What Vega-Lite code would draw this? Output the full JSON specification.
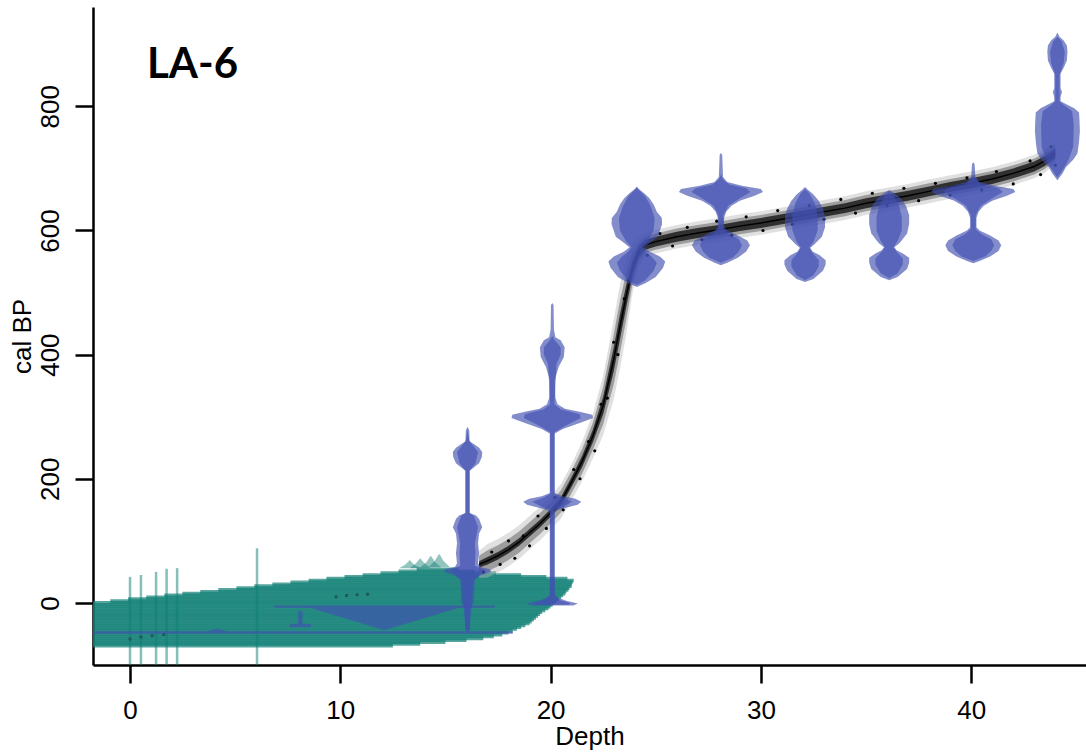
{
"$schema": "https://vega.github.io/schema/vega-lite/v6.json",
"width": 993, "height": 658,
"autosize": {"type": "none"},
"padding": {"left": 93, "top": 7, "right": 0, "bottom": 90},
"background": "white",
"config": {
 "view": {"stroke": null},
 "axis": {"grid": false, "domainColor": "black", "domainWidth": 2.5, "tickColor": "black", "tickWidth": 2.5, "tickSize": 18,
  "labelFont": "Liberation Sans", "labelFontSize": 26, "labelColor": "black",
  "titleFont": "Liberation Sans", "titleFontSize": 26, "titleFontWeight": "normal", "titleColor": "black"}
},
"datasets": {
 "stripes": [
  {"a":-69,"y0":-72,"y1":-66,"x0":-2.5,"x1":12.5},{"a":-66,"y0":-69,"y1":-63,"x0":-2.5,"x1":13.8},{"a":-63,"y0":-66,"y1":-60,"x0":-2.5,"x1":15.0},
  {"a":-60,"y0":-63,"y1":-57,"x0":-2.5,"x1":16.0},{"a":-57,"y0":-60,"y1":-54,"x0":-2.5,"x1":16.8},{"a":-54,"y0":-57,"y1":-51,"x0":-2.5,"x1":17.3},
  {"a":-51,"y0":-54,"y1":-48,"x0":-2.5,"x1":17.7},{"a":-48,"y0":-51,"y1":-45,"x0":-2.5,"x1":18.0},{"a":-45,"y0":-48,"y1":-42,"x0":-2.5,"x1":18.2},
  {"a":-42,"y0":-45,"y1":-39,"x0":-2.5,"x1":18.4},{"a":-39,"y0":-42,"y1":-36,"x0":-2.5,"x1":18.6},{"a":-36,"y0":-39,"y1":-33,"x0":-2.5,"x1":18.8},
  {"a":-33,"y0":-36,"y1":-30,"x0":-2.5,"x1":19.0},{"a":-30,"y0":-33,"y1":-27,"x0":-2.5,"x1":19.1},{"a":-27,"y0":-30,"y1":-24,"x0":-2.5,"x1":19.2},
  {"a":-24,"y0":-27,"y1":-21,"x0":-2.5,"x1":19.3},{"a":-21,"y0":-24,"y1":-18,"x0":-2.5,"x1":19.4},{"a":-18,"y0":-21,"y1":-15,"x0":-2.5,"x1":19.5},
  {"a":-15,"y0":-18,"y1":-12,"x0":-2.5,"x1":19.6},{"a":-12,"y0":-15,"y1":-9,"x0":-2.5,"x1":19.75},{"a":-9,"y0":-12,"y1":-6,"x0":-2.5,"x1":19.9},
  {"a":-6,"y0":-9,"y1":-3,"x0":-2.5,"x1":20.0},{"a":-3,"y0":-6,"y1":0,"x0":-2.5,"x1":20.1},{"a":0,"y0":-3,"y1":3,"x0":-2.5,"x1":20.2},
  {"a":3,"y0":0,"y1":6,"x0":-0.94,"x1":20.3},{"a":6,"y0":3,"y1":9,"x0":-0.09,"x1":20.4},{"a":9,"y0":6,"y1":12,"x0":0.77,"x1":20.5},
  {"a":12,"y0":9,"y1":15,"x0":1.63,"x1":20.6},{"a":15,"y0":12,"y1":18,"x0":2.49,"x1":20.7},{"a":18,"y0":15,"y1":21,"x0":3.34,"x1":20.75},
  {"a":21,"y0":18,"y1":24,"x0":4.2,"x1":20.85},{"a":24,"y0":21,"y1":27,"x0":5.06,"x1":20.9},{"a":27,"y0":24,"y1":30,"x0":5.91,"x1":21.0},
  {"a":30,"y0":27,"y1":33,"x0":6.77,"x1":21.0},{"a":33,"y0":30,"y1":36,"x0":7.63,"x1":21.05},{"a":36,"y0":33,"y1":39,"x0":8.49,"x1":21.1},
  {"a":39,"y0":36,"y1":42,"x0":9.34,"x1":20.8},{"a":42,"y0":39,"y1":45,"x0":10.2,"x1":19.8},{"a":45,"y0":42,"y1":48,"x0":11.06,"x1":18.6},
  {"a":48,"y0":45,"y1":51,"x0":11.91,"x1":17.4},{"a":51,"y0":48,"y1":54,"x0":12.77,"x1":16.4},{"a":54,"y0":51,"y1":57,"x0":13.63,"x1":15.6}
 ],
 "tealLines": [
  {"d":0,"top":42,"bot":-110},{"d":0.52,"top":45,"bot":-110},{"d":1.24,"top":50,"bot":-110},
  {"d":1.74,"top":55,"bot":-110},{"d":2.24,"top":56,"bot":-110},{"d":6.04,"top":88,"bot":-110}
 ],
 "bumps": [
  {"id":"b1","age":56,"lo":12.8,"hi":13.8},{"id":"b1","age":62,"lo":13.1,"hi":13.5},{"id":"b1","age":67,"lo":13.25,"hi":13.35},{"id":"b1","age":69,"lo":13.3,"hi":13.3},
  {"id":"b2","age":56,"lo":13.3,"hi":14.3},{"id":"b2","age":64,"lo":13.6,"hi":14.0},{"id":"b2","age":70,"lo":13.75,"hi":13.85},{"id":"b2","age":72,"lo":13.8,"hi":13.8},
  {"id":"b3","age":57,"lo":13.8,"hi":14.8},{"id":"b3","age":66,"lo":14.1,"hi":14.5},{"id":"b3","age":74,"lo":14.25,"hi":14.35},{"id":"b3","age":76,"lo":14.3,"hi":14.3},
  {"id":"b4","age":58,"lo":14.2,"hi":15.2},{"id":"b4","age":68,"lo":14.5,"hi":14.9},{"id":"b4","age":77,"lo":14.65,"hi":14.75},{"id":"b4","age":79,"lo":14.7,"hi":14.7}
 ],
 "tealDots": [
  {"d":0,"age":-58},{"d":0.52,"age":-55},{"d":1.05,"age":-53},{"d":1.6,"age":-51},
  {"d":9.8,"age":10},{"d":10.3,"age":12},{"d":10.8,"age":13},{"d":11.3,"age":14}
 ],
 "model": [
  {"depth":16.6,"c":62,"olo":40,"ohi":84,"mlo":48,"mhi":76,"ilo":57,"ihi":67},
  {"depth":17,"c":68,"olo":41,"ohi":95,"mlo":51,"mhi":85,"ilo":62,"ihi":74},
  {"depth":17.5,"c":76,"olo":49,"ohi":103,"mlo":59,"mhi":93,"ilo":70,"ihi":82},
  {"depth":18,"c":86,"olo":59,"ohi":113,"mlo":69,"mhi":103,"ilo":80,"ihi":92},
  {"depth":18.5,"c":98,"olo":71,"ohi":125,"mlo":81,"mhi":115,"ilo":92,"ihi":104},
  {"depth":19,"c":113,"olo":86,"ohi":140,"mlo":96,"mhi":130,"ilo":107,"ihi":119},
  {"depth":19.5,"c":128,"olo":101,"ohi":155,"mlo":111,"mhi":145,"ilo":122,"ihi":134},
  {"depth":20,"c":145,"olo":118,"ohi":172,"mlo":128,"mhi":162,"ilo":139,"ihi":151},
  {"depth":20.5,"c":164,"olo":136,"ohi":192,"mlo":146,"mhi":182,"ilo":157,"ihi":171},
  {"depth":21,"c":195,"olo":166,"ohi":224,"mlo":177,"mhi":213,"ilo":187,"ihi":203},
  {"depth":21.5,"c":228,"olo":196,"ohi":260,"mlo":208,"mhi":248,"ilo":219,"ihi":237},
  {"depth":22,"c":268,"olo":232,"ohi":304,"mlo":246,"mhi":290,"ilo":258,"ihi":278},
  {"depth":22.5,"c":318,"olo":270,"ohi":366,"mlo":288,"mhi":348,"ilo":304,"ihi":332},
  {"depth":23,"c":392,"olo":328,"ohi":456,"mlo":352,"mhi":432,"ilo":373,"ihi":411},
  {"depth":23.3,"c":445,"olo":377,"ohi":513,"mlo":403,"mhi":487,"ilo":425,"ihi":465},
  {"depth":23.6,"c":495,"olo":433,"ohi":557,"mlo":457,"mhi":533,"ilo":477,"ihi":513},
  {"depth":23.9,"c":540,"olo":500,"ohi":580,"mlo":515,"mhi":565,"ilo":528,"ihi":552},
  {"depth":24.2,"c":566,"olo":542,"ohi":590,"mlo":551,"mhi":581,"ilo":557,"ihi":575},
  {"depth":24.5,"c":577,"olo":558,"ohi":596,"mlo":564,"mhi":590,"ilo":569,"ihi":585},
  {"depth":25,"c":582,"olo":563,"ohi":601,"mlo":569,"mhi":595,"ilo":574,"ihi":590},
  {"depth":26,"c":590,"olo":571,"ohi":609,"mlo":577,"mhi":603,"ilo":582,"ihi":598},
  {"depth":27,"c":596,"olo":577,"ohi":615,"mlo":583,"mhi":609,"ilo":588,"ihi":604},
  {"depth":28,"c":601,"olo":582,"ohi":620,"mlo":588,"mhi":614,"ilo":593,"ihi":609},
  {"depth":29,"c":607,"olo":588,"ohi":626,"mlo":594,"mhi":620,"ilo":599,"ihi":615},
  {"depth":30,"c":612,"olo":593,"ohi":631,"mlo":599,"mhi":625,"ilo":604,"ihi":620},
  {"depth":31,"c":618,"olo":599,"ohi":637,"mlo":605,"mhi":631,"ilo":610,"ihi":626},
  {"depth":32,"c":624,"olo":605,"ohi":643,"mlo":611,"mhi":637,"ilo":616,"ihi":632},
  {"depth":33,"c":630,"olo":611,"ohi":649,"mlo":617,"mhi":643,"ilo":622,"ihi":638},
  {"depth":34,"c":636,"olo":617,"ohi":655,"mlo":623,"mhi":649,"ilo":628,"ihi":644},
  {"depth":35,"c":644,"olo":625,"ohi":663,"mlo":631,"mhi":657,"ilo":636,"ihi":652},
  {"depth":36,"c":650,"olo":631,"ohi":669,"mlo":637,"mhi":663,"ilo":642,"ihi":658},
  {"depth":37,"c":656,"olo":637,"ohi":675,"mlo":643,"mhi":669,"ilo":648,"ihi":664},
  {"depth":38,"c":663,"olo":644,"ohi":682,"mlo":650,"mhi":676,"ilo":655,"ihi":671},
  {"depth":39,"c":670,"olo":651,"ohi":689,"mlo":657,"mhi":683,"ilo":662,"ihi":678},
  {"depth":40,"c":676,"olo":657,"ohi":695,"mlo":663,"mhi":689,"ilo":668,"ihi":684},
  {"depth":41,"c":683,"olo":664,"ohi":702,"mlo":670,"mhi":696,"ilo":675,"ihi":691},
  {"depth":42,"c":692,"olo":673,"ohi":711,"mlo":679,"mhi":705,"ilo":684,"ihi":700},
  {"depth":43,"c":703,"olo":684,"ohi":722,"mlo":690,"mhi":716,"ilo":695,"ihi":711},
  {"depth":43.5,"c":712,"olo":693,"ohi":731,"mlo":699,"mhi":725,"ilo":704,"ihi":720},
  {"depth":44,"c":724,"olo":707,"ohi":741,"mlo":713,"mhi":735,"ilo":717,"ihi":731}
 ],
 "dots": [
  {"d":16.8,"age":50},{"d":17.2,"age":82},{"d":17.6,"age":62},{"d":18.0,"age":100},{"d":18.3,"age":72},{"d":18.7,"age":108},
  {"d":19.0,"age":92},{"d":19.4,"age":140},{"d":19.8,"age":120},{"d":20.2,"age":170},{"d":20.6,"age":150},{"d":21.1,"age":215},
  {"d":21.4,"age":200},{"d":21.8,"age":260},{"d":22.1,"age":245},{"d":22.4,"age":320},{"d":22.7,"age":330},{"d":23.0,"age":420},
  {"d":23.2,"age":400},{"d":23.5,"age":490},{"d":23.7,"age":520},{"d":24.6,"age":560},{"d":25.2,"age":595},{"d":25.8,"age":575},
  {"d":26.5,"age":605},{"d":27.2,"age":585},{"d":27.9,"age":615},{"d":28.6,"age":592},{"d":29.3,"age":622},{"d":30.1,"age":600},
  {"d":30.8,"age":632},{"d":31.5,"age":610},{"d":32.3,"age":640},{"d":33.0,"age":618},{"d":33.8,"age":650},{"d":34.5,"age":628},
  {"d":35.3,"age":660},{"d":36.0,"age":640},{"d":36.8,"age":668},{"d":37.5,"age":648},{"d":38.3,"age":676},{"d":39.0,"age":657},
  {"d":39.8,"age":685},{"d":40.5,"age":665},{"d":41.2,"age":695},{"d":42.0,"age":675},{"d":42.8,"age":712},{"d":43.3,"age":690},
  {"d":43.8,"age":735},{"d":44.0,"age":705}
 ],
 "viol": [
  {"id":"16o","age":-48,"lo":16.05,"hi":16.05},{"id":"16o","age":-44,"lo":15.93,"hi":16.17},{"id":"16o","age":-10,"lo":15.93,"hi":16.17},
  {"id":"16o","age":-6,"lo":15.9,"hi":16.2},{"id":"16o","age":0,"lo":15.75,"hi":16.35},{"id":"16o","age":20,"lo":15.73,"hi":16.37},
  {"id":"16o","age":37,"lo":15.7,"hi":16.4},{"id":"16o","age":44,"lo":15.45,"hi":16.65},{"id":"16o","age":50,"lo":14.95,"hi":17.15},
  {"id":"16o","age":54,"lo":14.95,"hi":17.15},{"id":"16o","age":58,"lo":15.45,"hi":16.65},{"id":"16o","age":64,"lo":15.55,"hi":16.55},
  {"id":"16o","age":80,"lo":15.5,"hi":16.6},{"id":"16o","age":96,"lo":15.55,"hi":16.55},{"id":"16o","age":112,"lo":15.5,"hi":16.6},
  {"id":"16o","age":122,"lo":15.35,"hi":16.75},{"id":"16o","age":135,"lo":15.5,"hi":16.6},{"id":"16o","age":141,"lo":15.65,"hi":16.45},
  {"id":"16o","age":145,"lo":15.95,"hi":16.15},{"id":"16o","age":213,"lo":15.95,"hi":16.15},{"id":"16o","age":218,"lo":15.75,"hi":16.35},
  {"id":"16o","age":225,"lo":15.5,"hi":16.6},{"id":"16o","age":235,"lo":15.37,"hi":16.73},{"id":"16o","age":243,"lo":15.35,"hi":16.75},
  {"id":"16o","age":250,"lo":15.5,"hi":16.6},{"id":"16o","age":256,"lo":15.75,"hi":16.35},{"id":"16o","age":260,"lo":15.95,"hi":16.15},
  {"id":"16o","age":278,"lo":15.97,"hi":16.13},{"id":"16o","age":284,"lo":16.05,"hi":16.05},
  {"id":"16i","age":-44,"lo":16.05,"hi":16.05},{"id":"16i","age":-40,"lo":15.95,"hi":16.15},{"id":"16i","age":0,"lo":15.85,"hi":16.25},
  {"id":"16i","age":37,"lo":15.8,"hi":16.3},{"id":"16i","age":50,"lo":15.3,"hi":16.8},{"id":"16i","age":54,"lo":15.3,"hi":16.8},
  {"id":"16i","age":60,"lo":15.7,"hi":16.4},{"id":"16i","age":80,"lo":15.67,"hi":16.43},{"id":"16i","age":96,"lo":15.7,"hi":16.4},
  {"id":"16i","age":122,"lo":15.55,"hi":16.55},{"id":"16i","age":140,"lo":15.75,"hi":16.35},{"id":"16i","age":145,"lo":15.95,"hi":16.15},
  {"id":"16i","age":213,"lo":15.95,"hi":16.15},{"id":"16i","age":225,"lo":15.67,"hi":16.43},{"id":"16i","age":243,"lo":15.55,"hi":16.55},
  {"id":"16i","age":256,"lo":15.85,"hi":16.25},{"id":"16i","age":262,"lo":15.97,"hi":16.13},{"id":"16i","age":278,"lo":16.05,"hi":16.05},
  {"id":"20o","age":-4,"lo":19.08,"hi":21.08},{"id":"20o","age":-1,"lo":18.86,"hi":21.3},{"id":"20o","age":3,"lo":19.38,"hi":20.78},
  {"id":"20o","age":8,"lo":19.78,"hi":20.38},{"id":"20o","age":14,"lo":19.96,"hi":20.2},{"id":"20o","age":148,"lo":19.96,"hi":20.2},
  {"id":"20o","age":153,"lo":19.48,"hi":20.68},{"id":"20o","age":158,"lo":18.88,"hi":21.28},{"id":"20o","age":163,"lo":18.7,"hi":21.46},
  {"id":"20o","age":168,"lo":18.98,"hi":21.18},{"id":"20o","age":172,"lo":19.58,"hi":20.58},{"id":"20o","age":177,"lo":19.96,"hi":20.2},
  {"id":"20o","age":273,"lo":19.96,"hi":20.2},{"id":"20o","age":280,"lo":19.58,"hi":20.58},{"id":"20o","age":290,"lo":18.78,"hi":21.38},
  {"id":"20o","age":298,"lo":18.14,"hi":22.02},{"id":"20o","age":303,"lo":18.18,"hi":21.98},{"id":"20o","age":308,"lo":18.78,"hi":21.38},
  {"id":"20o","age":313,"lo":19.48,"hi":20.68},{"id":"20o","age":320,"lo":19.83,"hi":20.33},{"id":"20o","age":330,"lo":19.93,"hi":20.23},
  {"id":"20o","age":359,"lo":19.96,"hi":20.2},{"id":"20o","age":380,"lo":19.78,"hi":20.38},{"id":"20o","age":396,"lo":19.53,"hi":20.63},
  {"id":"20o","age":412,"lo":19.49,"hi":20.67},{"id":"20o","age":423,"lo":19.68,"hi":20.48},{"id":"20o","age":428,"lo":19.93,"hi":20.23},
  {"id":"20o","age":440,"lo":20.0,"hi":20.16},{"id":"20o","age":480,"lo":20.02,"hi":20.14},{"id":"20o","age":483,"lo":20.08,"hi":20.08},
  {"id":"20i","age":-3,"lo":19.28,"hi":20.88},{"id":"20i","age":0,"lo":19.23,"hi":20.93},{"id":"20i","age":4,"lo":19.68,"hi":20.48},
  {"id":"20i","age":10,"lo":19.98,"hi":20.18},{"id":"20i","age":150,"lo":19.98,"hi":20.18},{"id":"20i","age":155,"lo":19.58,"hi":20.58},
  {"id":"20i","age":163,"lo":19.13,"hi":21.03},{"id":"20i","age":170,"lo":19.68,"hi":20.48},{"id":"20i","age":176,"lo":19.98,"hi":20.18},
  {"id":"20i","age":275,"lo":19.98,"hi":20.18},{"id":"20i","age":285,"lo":19.48,"hi":20.68},{"id":"20i","age":298,"lo":18.73,"hi":21.43},
  {"id":"20i","age":304,"lo":18.78,"hi":21.38},{"id":"20i","age":312,"lo":19.68,"hi":20.48},{"id":"20i","age":320,"lo":19.98,"hi":20.18},
  {"id":"20i","age":385,"lo":19.88,"hi":20.28},{"id":"20i","age":400,"lo":19.68,"hi":20.48},{"id":"20i","age":412,"lo":19.68,"hi":20.48},
  {"id":"20i","age":424,"lo":19.98,"hi":20.18},{"id":"20i","age":430,"lo":20.08,"hi":20.08},
  {"id":"24o","age":509,"lo":24.1,"hi":24.1},{"id":"24o","age":515,"lo":23.7,"hi":24.5},{"id":"24o","age":525,"lo":23.2,"hi":25.0},
  {"id":"24o","age":540,"lo":22.85,"hi":25.35},{"id":"24o","age":550,"lo":22.75,"hi":25.45},{"id":"24o","age":558,"lo":23.0,"hi":25.2},
  {"id":"24o","age":566,"lo":23.5,"hi":24.7},{"id":"24o","age":573,"lo":23.75,"hi":24.45},{"id":"24o","age":580,"lo":23.5,"hi":24.7},
  {"id":"24o","age":590,"lo":23.1,"hi":25.1},{"id":"24o","age":600,"lo":23.0,"hi":25.2},{"id":"24o","age":610,"lo":22.9,"hi":25.3},
  {"id":"24o","age":620,"lo":22.91,"hi":25.29},{"id":"24o","age":630,"lo":23.15,"hi":25.05},{"id":"24o","age":642,"lo":23.3,"hi":24.9},
  {"id":"24o","age":652,"lo":23.5,"hi":24.7},{"id":"24o","age":660,"lo":23.75,"hi":24.45},{"id":"24o","age":667,"lo":24.0,"hi":24.2},
  {"id":"24o","age":671,"lo":24.1,"hi":24.1},
  {"id":"24i","age":512,"lo":24.1,"hi":24.1},{"id":"24i","age":520,"lo":23.7,"hi":24.5},{"id":"24i","age":535,"lo":23.3,"hi":24.9},
  {"id":"24i","age":548,"lo":23.15,"hi":25.05},{"id":"24i","age":558,"lo":23.4,"hi":24.8},{"id":"24i","age":566,"lo":23.7,"hi":24.5},
  {"id":"24i","age":573,"lo":23.85,"hi":24.35},{"id":"24i","age":582,"lo":23.6,"hi":24.6},{"id":"24i","age":600,"lo":23.3,"hi":24.9},
  {"id":"24i","age":620,"lo":23.25,"hi":24.95},{"id":"24i","age":640,"lo":23.45,"hi":24.75},{"id":"24i","age":655,"lo":23.7,"hi":24.5},
  {"id":"24i","age":665,"lo":24.0,"hi":24.2},{"id":"24i","age":669,"lo":24.1,"hi":24.1},
  {"id":"28o","age":544,"lo":28.1,"hi":28.1},{"id":"28o","age":548,"lo":27.8,"hi":28.4},{"id":"28o","age":556,"lo":27.3,"hi":28.9},
  {"id":"28o","age":566,"lo":26.9,"hi":29.3},{"id":"28o","age":576,"lo":26.72,"hi":29.48},{"id":"28o","age":584,"lo":26.85,"hi":29.35},
  {"id":"28o","age":592,"lo":27.3,"hi":28.9},{"id":"28o","age":600,"lo":27.8,"hi":28.4},{"id":"28o","age":605,"lo":27.95,"hi":28.25},
  {"id":"28o","age":620,"lo":27.95,"hi":28.25},{"id":"28o","age":630,"lo":27.85,"hi":28.35},{"id":"28o","age":640,"lo":27.6,"hi":28.6},
  {"id":"28o","age":648,"lo":27.2,"hi":29.0},{"id":"28o","age":656,"lo":26.5,"hi":29.7},{"id":"28o","age":662,"lo":26.1,"hi":30.1},
  {"id":"28o","age":667,"lo":26.2,"hi":30.0},{"id":"28o","age":672,"lo":27.1,"hi":29.1},{"id":"28o","age":678,"lo":27.8,"hi":28.4},
  {"id":"28o","age":686,"lo":28.0,"hi":28.2},{"id":"28o","age":722,"lo":28.04,"hi":28.16},{"id":"28o","age":725,"lo":28.1,"hi":28.1},
  {"id":"28i","age":548,"lo":28.1,"hi":28.1},{"id":"28i","age":556,"lo":27.55,"hi":28.65},{"id":"28i","age":566,"lo":27.25,"hi":28.95},
  {"id":"28i","age":576,"lo":27.1,"hi":29.1},{"id":"28i","age":586,"lo":27.25,"hi":28.95},{"id":"28i","age":594,"lo":27.7,"hi":28.5},
  {"id":"28i","age":602,"lo":27.98,"hi":28.22},{"id":"28i","age":625,"lo":27.98,"hi":28.22},{"id":"28i","age":640,"lo":27.75,"hi":28.45},
  {"id":"28i","age":652,"lo":27.2,"hi":29.0},{"id":"28i","age":662,"lo":26.7,"hi":29.5},{"id":"28i","age":668,"lo":26.9,"hi":29.3},
  {"id":"28i","age":674,"lo":27.7,"hi":28.5},{"id":"28i","age":682,"lo":28.0,"hi":28.2},{"id":"28i","age":690,"lo":28.1,"hi":28.1},
  {"id":"32o","age":517,"lo":32.1,"hi":32.1},{"id":"32o","age":522,"lo":31.7,"hi":32.5},{"id":"32o","age":535,"lo":31.25,"hi":32.95},
  {"id":"32o","age":545,"lo":31.12,"hi":33.08},{"id":"32o","age":552,"lo":31.12,"hi":33.08},{"id":"32o","age":560,"lo":31.4,"hi":32.8},
  {"id":"32o","age":566,"lo":31.75,"hi":32.45},{"id":"32o","age":572,"lo":31.85,"hi":32.35},{"id":"32o","age":578,"lo":31.65,"hi":32.55},
  {"id":"32o","age":590,"lo":31.3,"hi":32.9},{"id":"32o","age":605,"lo":31.15,"hi":33.05},{"id":"32o","age":622,"lo":31.15,"hi":33.05},
  {"id":"32o","age":635,"lo":31.25,"hi":32.95},{"id":"32o","age":648,"lo":31.45,"hi":32.75},{"id":"32o","age":658,"lo":31.7,"hi":32.5},
  {"id":"32o","age":666,"lo":31.98,"hi":32.22},{"id":"32o","age":670,"lo":32.1,"hi":32.1},
  {"id":"32i","age":520,"lo":32.1,"hi":32.1},{"id":"32i","age":528,"lo":31.7,"hi":32.5},{"id":"32i","age":542,"lo":31.45,"hi":32.75},
  {"id":"32i","age":552,"lo":31.45,"hi":32.75},{"id":"32i","age":562,"lo":31.7,"hi":32.5},{"id":"32i","age":572,"lo":31.9,"hi":32.3},
  {"id":"32i","age":582,"lo":31.7,"hi":32.5},{"id":"32i","age":600,"lo":31.5,"hi":32.7},{"id":"32i","age":625,"lo":31.5,"hi":32.7},
  {"id":"32i","age":645,"lo":31.65,"hi":32.55},{"id":"32i","age":660,"lo":31.9,"hi":32.3},{"id":"32i","age":667,"lo":32.1,"hi":32.1},
  {"id":"36o","age":520,"lo":36.1,"hi":36.1},{"id":"36o","age":525,"lo":35.7,"hi":36.5},{"id":"36o","age":538,"lo":35.25,"hi":36.95},
  {"id":"36o","age":548,"lo":35.15,"hi":37.05},{"id":"36o","age":556,"lo":35.15,"hi":37.05},{"id":"36o","age":563,"lo":35.45,"hi":36.75},
  {"id":"36o","age":568,"lo":35.75,"hi":36.45},{"id":"36o","age":573,"lo":35.85,"hi":36.35},{"id":"36o","age":580,"lo":35.6,"hi":36.6},
  {"id":"36o","age":595,"lo":35.25,"hi":36.95},{"id":"36o","age":610,"lo":35.15,"hi":37.05},{"id":"36o","age":625,"lo":35.15,"hi":37.05},
  {"id":"36o","age":640,"lo":35.3,"hi":36.9},{"id":"36o","age":652,"lo":35.55,"hi":36.65},{"id":"36o","age":660,"lo":35.85,"hi":36.35},
  {"id":"36o","age":665,"lo":36.1,"hi":36.1},
  {"id":"36i","age":523,"lo":36.1,"hi":36.1},{"id":"36i","age":531,"lo":35.7,"hi":36.5},{"id":"36i","age":545,"lo":35.45,"hi":36.75},
  {"id":"36i","age":555,"lo":35.45,"hi":36.75},{"id":"36i","age":564,"lo":35.7,"hi":36.5},{"id":"36i","age":573,"lo":35.9,"hi":36.3},
  {"id":"36i","age":583,"lo":35.7,"hi":36.5},{"id":"36i","age":600,"lo":35.5,"hi":36.7},{"id":"36i","age":622,"lo":35.5,"hi":36.7},
  {"id":"36i","age":642,"lo":35.65,"hi":36.55},{"id":"36i","age":656,"lo":35.9,"hi":36.3},{"id":"36i","age":662,"lo":36.1,"hi":36.1},
  {"id":"40o","age":547,"lo":40.1,"hi":40.1},{"id":"40o","age":551,"lo":39.8,"hi":40.4},{"id":"40o","age":558,"lo":39.3,"hi":40.9},
  {"id":"40o","age":567,"lo":38.9,"hi":41.3},{"id":"40o","age":576,"lo":38.77,"hi":41.43},{"id":"40o","age":584,"lo":38.9,"hi":41.3},
  {"id":"40o","age":592,"lo":39.3,"hi":40.9},{"id":"40o","age":600,"lo":39.8,"hi":40.4},{"id":"40o","age":605,"lo":39.95,"hi":40.25},
  {"id":"40o","age":620,"lo":39.95,"hi":40.25},{"id":"40o","age":630,"lo":39.85,"hi":40.35},{"id":"40o","age":640,"lo":39.6,"hi":40.6},
  {"id":"40o","age":648,"lo":39.2,"hi":41.0},{"id":"40o","age":656,"lo":38.5,"hi":41.7},{"id":"40o","age":662,"lo":38.1,"hi":42.1},
  {"id":"40o","age":667,"lo":38.2,"hi":42.0},{"id":"40o","age":672,"lo":39.1,"hi":41.1},{"id":"40o","age":678,"lo":39.8,"hi":40.4},
  {"id":"40o","age":686,"lo":40.0,"hi":40.2},{"id":"40o","age":707,"lo":40.04,"hi":40.16},{"id":"40o","age":710,"lo":40.1,"hi":40.1},
  {"id":"40i","age":551,"lo":40.1,"hi":40.1},{"id":"40i","age":558,"lo":39.55,"hi":40.65},{"id":"40i","age":567,"lo":39.25,"hi":40.95},
  {"id":"40i","age":576,"lo":39.1,"hi":41.1},{"id":"40i","age":586,"lo":39.25,"hi":40.95},{"id":"40i","age":594,"lo":39.7,"hi":40.5},
  {"id":"40i","age":602,"lo":39.98,"hi":40.22},{"id":"40i","age":625,"lo":39.98,"hi":40.22},{"id":"40i","age":640,"lo":39.75,"hi":40.45},
  {"id":"40i","age":652,"lo":39.2,"hi":41.0},{"id":"40i","age":662,"lo":38.7,"hi":41.5},{"id":"40i","age":668,"lo":38.9,"hi":41.3},
  {"id":"40i","age":674,"lo":39.7,"hi":40.5},{"id":"40i","age":682,"lo":40.0,"hi":40.2},{"id":"40i","age":690,"lo":40.1,"hi":40.1},
  {"id":"44o","age":681,"lo":44.1,"hi":44.1},{"id":"44o","age":692,"lo":43.85,"hi":44.35},{"id":"44o","age":702,"lo":43.7,"hi":44.5},
  {"id":"44o","age":714,"lo":43.35,"hi":44.85},{"id":"44o","age":724,"lo":43.15,"hi":45.05},{"id":"44o","age":740,"lo":43.08,"hi":45.12},
  {"id":"44o","age":760,"lo":43.03,"hi":45.17},{"id":"44o","age":778,"lo":43.05,"hi":45.15},{"id":"44o","age":790,"lo":43.07,"hi":45.13},
  {"id":"44o","age":797,"lo":43.3,"hi":44.9},{"id":"44o","age":803,"lo":43.65,"hi":44.55},{"id":"44o","age":808,"lo":43.95,"hi":44.25},
  {"id":"44o","age":815,"lo":43.95,"hi":44.25},{"id":"44o","age":823,"lo":43.88,"hi":44.32},{"id":"44o","age":829,"lo":43.95,"hi":44.25},
  {"id":"44o","age":853,"lo":43.95,"hi":44.25},{"id":"44o","age":862,"lo":43.8,"hi":44.4},{"id":"44o","age":874,"lo":43.65,"hi":44.55},
  {"id":"44o","age":888,"lo":43.62,"hi":44.58},{"id":"44o","age":898,"lo":43.65,"hi":44.55},{"id":"44o","age":906,"lo":43.8,"hi":44.4},
  {"id":"44o","age":912,"lo":44.0,"hi":44.2},{"id":"44o","age":919,"lo":44.1,"hi":44.1},
  {"id":"44i","age":685,"lo":44.1,"hi":44.1},{"id":"44i","age":700,"lo":43.8,"hi":44.4},{"id":"44i","age":715,"lo":43.55,"hi":44.65},
  {"id":"44i","age":735,"lo":43.35,"hi":44.85},{"id":"44i","age":770,"lo":43.32,"hi":44.88},{"id":"44i","age":792,"lo":43.4,"hi":44.8},
  {"id":"44i","age":802,"lo":43.8,"hi":44.4},{"id":"44i","age":808,"lo":44.0,"hi":44.2},{"id":"44i","age":850,"lo":44.0,"hi":44.2},
  {"id":"44i","age":870,"lo":43.8,"hi":44.4},{"id":"44i","age":888,"lo":43.75,"hi":44.45},{"id":"44i","age":905,"lo":43.9,"hi":44.3},
  {"id":"44i","age":912,"lo":44.1,"hi":44.1},
  {"id":"12","age":-44,"lo":12.1,"hi":12.1},{"id":"12","age":-8,"lo":8.6,"hi":15.6},{"id":"12","age":-7.5,"lo":6.85,"hi":17.35},{"id":"12","age":-4,"lo":6.85,"hi":17.35},
  {"id":"8L","age":-49.5,"lo":-2.5,"hi":18.2},{"id":"8L","age":-45.5,"lo":-2.5,"hi":18.2},
  {"id":"8T","age":-39,"lo":7.6,"hi":8.6},{"id":"8T","age":-34,"lo":7.6,"hi":8.6},{"id":"8T","age":-33,"lo":8.0,"hi":8.2},{"id":"8T","age":-14,"lo":8.0,"hi":8.2},{"id":"8T","age":-13,"lo":8.1,"hi":8.1},
  {"id":"4","age":-46,"lo":3.65,"hi":4.65},{"id":"4","age":-41,"lo":4.15,"hi":4.15}
 ],
 "label": [{"depth":0.81,"age":846,"text":"LA-6"}]
},
"layer": [
 {"data": {"name": "stripes"},
  "mark": {"type": "rect", "color": "#0d7d73", "opacity": 0.7, "clip": true},
  "encoding": {
   "x": {"field": "x0", "type": "quantitative", "title": "Depth", "scale": {"domain": [-1.76, 45.46], "nice": false, "zero": false},
         "axis": {"values": [0, 10, 20, 30, 40], "labelPadding": 14, "titlePadding": 0}},
   "x2": {"field": "x1"},
   "y": {"field": "y0", "type": "quantitative", "title": "cal BP", "scale": {"domain": [-100, 960], "nice": false, "zero": false},
         "axis": {"values": [0, 200, 400, 600, 800], "labelAngle": -90, "labelAlign": "center", "labelBaseline": "bottom", "labelPadding": 12, "titlePadding": 2}},
   "y2": {"field": "y1"}
  }},
 {"data": {"name": "tealLines"},
  "mark": {"type": "rule", "color": "#0d7d73", "opacity": 0.5, "strokeWidth": 2.5, "clip": true},
  "encoding": {
   "x": {"field": "d", "type": "quantitative", "title": "Depth"},
   "y": {"field": "top", "type": "quantitative", "title": "cal BP"},
   "y2": {"field": "bot"}
  }},
 {"data": {"name": "bumps"},
  "mark": {"type": "area", "orient": "horizontal", "color": "#0d7d73", "opacity": 0.45, "clip": true},
  "encoding": {
   "y": {"field": "age", "type": "quantitative", "title": "cal BP"},
   "x": {"field": "lo", "type": "quantitative", "title": "Depth"},
   "x2": {"field": "hi"},
   "detail": {"field": "id"}
  }},
 {"data": {"name": "tealDots"},
  "mark": {"type": "point", "filled": true, "color": "#1f5c56", "size": 12, "opacity": 1},
  "encoding": {
   "x": {"field": "d", "type": "quantitative", "title": "Depth"},
   "y": {"field": "age", "type": "quantitative", "title": "cal BP"}
  }},
 {"data": {"name": "model"},
  "mark": {"type": "area", "color": "#bbbbbb", "opacity": 0.45, "clip": true},
  "encoding": {
   "x": {"field": "depth", "type": "quantitative", "title": "Depth"},
   "y": {"field": "olo", "type": "quantitative", "title": "cal BP"},
   "y2": {"field": "ohi"}
  }},
 {"data": {"name": "model"},
  "mark": {"type": "area", "color": "#666666", "opacity": 0.55, "clip": true},
  "encoding": {
   "x": {"field": "depth", "type": "quantitative", "title": "Depth"},
   "y": {"field": "mlo", "type": "quantitative", "title": "cal BP"},
   "y2": {"field": "mhi"}
  }},
 {"data": {"name": "model"},
  "mark": {"type": "area", "color": "#151515", "opacity": 0.8, "clip": true},
  "encoding": {
   "x": {"field": "depth", "type": "quantitative", "title": "Depth"},
   "y": {"field": "ilo", "type": "quantitative", "title": "cal BP"},
   "y2": {"field": "ihi"}
  }},
 {"data": {"name": "model"},
  "mark": {"type": "line", "color": "black", "strokeWidth": 1.5, "clip": true},
  "encoding": {
   "x": {"field": "depth", "type": "quantitative", "title": "Depth"},
   "y": {"field": "c", "type": "quantitative", "title": "cal BP"}
  }},
 {"data": {"name": "dots"},
  "mark": {"type": "point", "filled": true, "color": "black", "size": 10, "opacity": 1},
  "encoding": {
   "x": {"field": "d", "type": "quantitative", "title": "Depth"},
   "y": {"field": "age", "type": "quantitative", "title": "cal BP"}
  }},
 {"data": {"name": "viol"},
  "mark": {"type": "area", "orient": "horizontal", "color": "#4050b0", "opacity": 0.65, "clip": true},
  "encoding": {
   "y": {"field": "age", "type": "quantitative", "title": "cal BP"},
   "x": {"field": "lo", "type": "quantitative", "title": "Depth"},
   "x2": {"field": "hi"},
   "detail": {"field": "id"}
  }},
 {"data": {"name": "label"},
  "mark": {"type": "text", "font": "Lato", "fontWeight": "bold", "fontSize": 42, "align": "left", "baseline": "alphabetic", "color": "black"},
  "encoding": {
   "x": {"field": "depth", "type": "quantitative", "title": "Depth"},
   "y": {"field": "age", "type": "quantitative", "title": "cal BP"},
   "text": {"field": "text"}
  }}
]
}
